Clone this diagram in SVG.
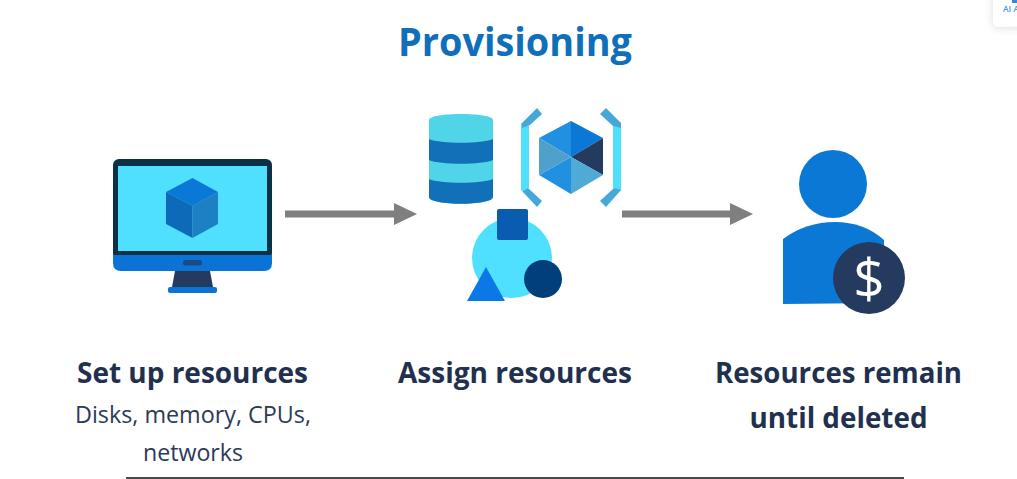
<svg xmlns="http://www.w3.org/2000/svg" width="1017" height="479" viewBox="0 0 1017 479">
<defs>
<marker id="arrowhead" markerUnits="userSpaceOnUse" markerWidth="24" markerHeight="24" refX="1" refY="12" orient="auto"><path d="M0 1L23 12L0 23Z" fill="#7f7f7f"/></marker>
<filter id="cardShadow" x="-50%" y="-50%" width="200%" height="200%"><feDropShadow dx="0" dy="1" stdDeviation="4" flood-color="#000" flood-opacity="0.14"/></filter>
</defs>
<style>
text{font-family:"Open Sans","Noto Sans","Liberation Sans",sans-serif;text-anchor:middle}
.title{font-size:39.5px;font-weight:700;fill:#0f6fba}
.head{font-size:28.5px;font-weight:700;fill:#22304f}
.sub{font-size:24.5px;font-weight:400;fill:#2b3a58}
.conn{fill:none;stroke:#7f7f7f;stroke-width:7;marker-end:url(#arrowhead)}
</style>
<rect width="1017" height="479" fill="#fff"/>
<g id="browser-badge">
<rect x="993" y="-12" width="40" height="39" rx="6" fill="#fff" filter="url(#cardShadow)"/>
<text x="1011" y="12" style="font-size:8.5px;font-weight:600;fill:#3d9be9">AI A</text>
<rect x="1012" y="0" width="5" height="3" fill="#2d8ee0"/>
</g>
<g id="title"><text class="title" x="515" y="56" textLength="234" lengthAdjust="spacingAndGlyphs">Provisioning</text></g>
<g id="node-setup">
<rect x="113" y="159" width="159" height="100" rx="6" fill="#0c3045"/>
<rect x="118" y="166" width="149" height="85" fill="#50e0ff"/>
<path d="M113 255H272V263Q272 271 264 271H121Q113 271 113 263Z" fill="#0c73d6"/>
<rect x="183" y="260" width="19" height="5.500" rx="2.500" fill="#1b4a86"/>
<path d="M175 271H210L213 287H172Z" fill="#243a5e"/>
<rect x="168" y="287" width="49" height="6" rx="2" fill="#0c73d6"/>
<path d="M192.500 178L218 192L192.500 206L166 192Z" fill="#0a78d7"/>
<path d="M166 192L192.500 206V238L166 224Z" fill="#0c6ab9"/>
<path d="M218 192L192.500 206V238L218 224Z" fill="#1d7fc4"/>
<text class="head" x="192.500" y="383" textLength="231" lengthAdjust="spacingAndGlyphs">Set up resources</text>
<text class="sub" x="193" y="423" textLength="236" lengthAdjust="spacingAndGlyphs">Disks, memory, CPUs,</text>
<text class="sub" x="193" y="461" textLength="100" lengthAdjust="spacingAndGlyphs">networks</text>
</g>
<g id="node-assign">
<path d="M429 120C429 112 493 112 493 120V197C493 206 429 206 429 197Z" fill="#50d5e8"/>
<path d="M429 139C440 144 482 144 493 139V160C482 165 440 165 429 160Z" fill="#1170b8"/>
<path d="M429 179C440 184 482 184 493 179V197C493 206 429 206 429 197Z" fill="#1170b8"/>
<path d="M521 123L529 126V188L521 191Z" fill="#50e0ff"/>
<path d="M522 123L537 108L542 114L530 125L522 128Z" fill="#45a8d8"/>
<path d="M522 191L528 188L542 201L537 207Z" fill="#45a8d8"/>
<path d="M621 123L613 126V188L621 191Z" fill="#50e0ff"/>
<path d="M621 123L606 108L600 114L613 126L621 128Z" fill="#45a8d8"/>
<path d="M621 190L614 188L600 201L606 207Z" fill="#45a8d8"/>
<path d="M571 157V121L539 138Z" fill="#2190e0"/>
<path d="M571 157V121L603 138Z" fill="#0a78d7"/>
<path d="M571 157L603 138V175Z" fill="#243a5e"/>
<path d="M571 157L603 175L571 194Z" fill="#50aad6"/>
<path d="M571 157L571 194L539 175Z" fill="#2190e0"/>
<path d="M571 157L539 175V138Z" fill="#50a0cc"/>
<circle cx="512" cy="258" r="40" fill="#50e0ff"/>
<rect x="497" y="209" width="31" height="31" rx="2" fill="#0a5cb0"/>
<path d="M486 267L505 301H467Z" fill="#0c78e6"/>
<circle cx="543" cy="279" r="19" fill="#003f7a"/>
<text class="head" x="515" y="383" textLength="234" lengthAdjust="spacingAndGlyphs">Assign resources</text>
</g>
<g id="node-remain">
<circle cx="833" cy="184" r="34" fill="#0c78d6"/>
<path d="M783 239Q806 222 835 222Q864 222 884 240V303L783 304Z" fill="#0c78d6"/>
<circle cx="869" cy="278" r="36" fill="#243a5e"/>
<text x="869" y="298" style="font-size:55px;font-weight:500;fill:#fff">$</text>
<text class="head" x="838.500" y="383" textLength="247" lengthAdjust="spacingAndGlyphs">Resources remain</text>
<text class="head" x="838.500" y="428" textLength="178" lengthAdjust="spacingAndGlyphs">until deleted</text>
</g>
<g id="connectors">
<path class="conn" d="M285 214H395"/>
<path class="conn" d="M622 214H731"/>
</g>
<rect id="bottom-rule" x="126" y="477" width="778" height="2" fill="#4a4a4a"/>
</svg>
